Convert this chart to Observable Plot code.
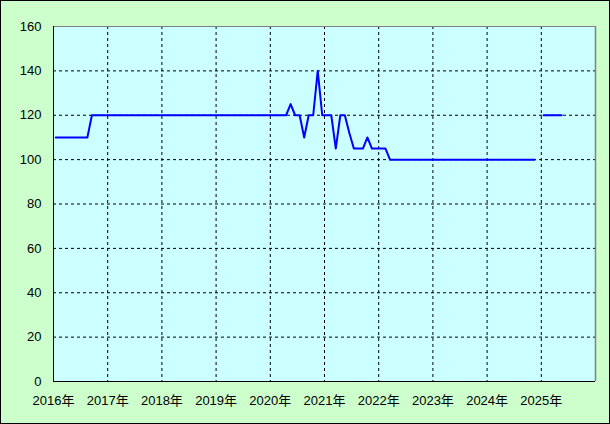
<!DOCTYPE html>
<html>
<head>
<meta charset="utf-8">
<script src="https://cdn.jsdelivr.net/npm/d3@7"></script>
<script src="https://cdn.jsdelivr.net/npm/@observablehq/plot@0.6"></script>
<style>
  html, body { margin: 0; padding: 0; background: #ccffcc; }
  #chart svg { outline: 1px solid #000; outline-offset: -1px; }
</style>
</head>
<body>
<div id="chart"></div>
<script>
// Monthly values, one array per year (Jan..Dec); null = no data
const years = [2016, 2017, 2018, 2019, 2020, 2021, 2022, 2023, 2024, 2025];
const v2016 = [110, 110, 110, 110, 110, 110, 110, 110, 120, 120, 120, 120];
const v2017 = [120, 120, 120, 120, 120, 120, 120, 120, 120, 120, 120, 120];
const v2018 = [120, 120, 120, 120, 120, 120, 120, 120, 120, 120, 120, 120];
const v2019 = [120, 120, 120, 120, 120, 120, 120, 120, 120, 120, 120, 120];
const v2020 = [120, 120, 120, 120, 125, 120, 120, 110, 120, 120, 140, 120];
const v2021 = [120, 120, 105, 120, 120, 112, 105, 105, 105, 110, 105, 105];
const v2022 = [105, 105, 100, 100, 100, 100, 100, 100, 100, 100, 100, 100];
const v2023 = [100, 100, 100, 100, 100, 100, 100, 100, 100, 100, 100, 100];
const v2024 = [100, 100, 100, 100, 100, 100, 100, 100, 100, 100, 100, null];
const v2025 = [120, 120, 120, 120, 120];
const seriesByYear = [v2016, v2017, v2018, v2019, v2020, v2021, v2022, v2023, v2024, v2025];

const xTicks = [2016, 2017, 2018, 2019, 2020, 2021, 2022, 2023, 2024, 2025];
const xGrid = [2017, 2018, 2019, 2020, 2021, 2022, 2023, 2024, 2025];
const yTicks = [0, 20, 40, 60, 80, 100, 120, 140, 160];
const yGrid = [20, 40, 60, 80, 100, 120, 140];

const data = [];
years.forEach((yr, i) => {
  seriesByYear[i].forEach((v, m) => {
    data.push({ t: yr + (m + 0.5) / 12, v: v });
  });
});

const font = "'Liberation Sans', 'Noto Sans CJK JP', sans-serif";

const chart = Plot.plot({
  width: 610,
  height: 424,
  marginLeft: 53,
  marginTop: 26,
  marginRight: 15,
  marginBottom: 43,
  style: { background: "#ccffcc", fontSize: "13px", fontFamily: font, color: "#000" },
  x: { type: "linear", domain: [2016, 2026] },
  y: { domain: [0, 160] },
  marks: [
    Plot.frame({ fill: "#ccffff", stroke: "none" }),
    Plot.ruleY(yGrid, { stroke: "#000", strokeDasharray: "3,3", strokeWidth: 1 }),
    Plot.ruleX(xGrid, { stroke: "#000", strokeDasharray: "3,3", strokeWidth: 1 }),
    Plot.ruleY([160], { stroke: "#808080", strokeWidth: 1 }),
    Plot.ruleX([2026], { stroke: "#808080", strokeWidth: 1.5 }),
    Plot.ruleX([2016], { stroke: "#000", strokeWidth: 1 }),
    Plot.ruleY([0], { stroke: "#000", strokeWidth: 1 }),
    Plot.axisY({ ticks: yTicks, tickSize: 0, tickPadding: 12, tickFormat: d => String(d), label: null }),
    Plot.axisX({ ticks: xTicks, tickSize: 0, tickPadding: 14, tickFormat: d => d + "年", label: null }),
    Plot.line(data, { x: "t", y: "v", stroke: "#0000ff", strokeWidth: 2 })
  ]
});
document.getElementById("chart").appendChild(chart);
</script>
</body>
</html>
